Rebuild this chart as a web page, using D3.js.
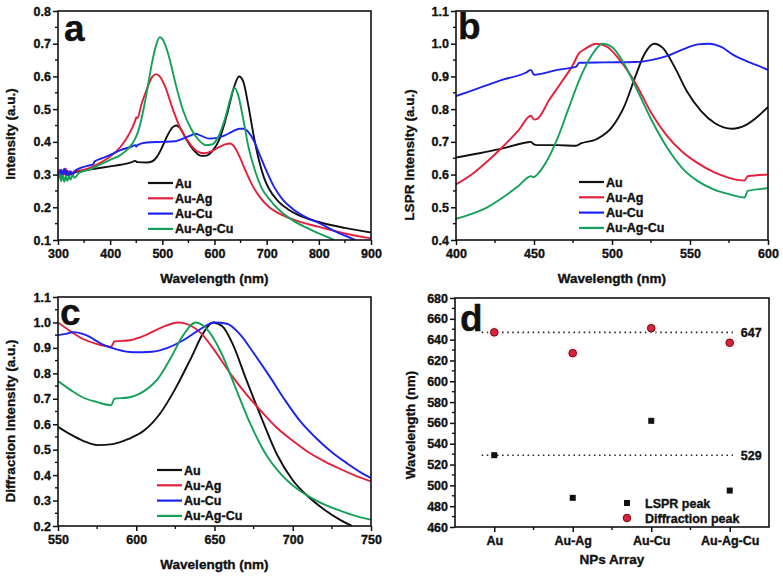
<!DOCTYPE html>
<html><head><meta charset="utf-8">
<script src="https://cdn.jsdelivr.net/npm/d3@7"></script>
<style>
body{margin:0;background:#fff;}
text{font-family:"Liberation Sans",Arial,sans-serif;font-weight:bold;fill:#111;stroke:#111;stroke-width:0.35px;}
</style></head>
<body><svg id="c" width="783" height="576"></svg>
<script>
// ---------- DATA ----------
const seriesNames = ["Au","Au-Ag","Au-Cu","Au-Ag-Cu"];
const seriesColors = ["#111111","#e3203c","#1d22f0","#15a05a"];

// Panel a: absorbance spectra [wavelength, intensity]
const a_Au = [[300,0.30],[304,0.31],[308,0.295],[312,0.31],[316,0.30],[320,0.305],[325,0.30],[330,0.305],[340,0.31],[360,0.315],[380,0.32],[400,0.325],[420,0.33],[440,0.337],[448,0.342],[452,0.338],[470,0.337],[480,0.34],[490,0.355],[500,0.385],[510,0.42],[520,0.445],[527,0.45],[535,0.44],[545,0.41],[560,0.375],[575,0.357],[585,0.358],[595,0.37],[610,0.41],[625,0.49],[637,0.565],[647,0.6],[655,0.585],[665,0.51],[675,0.42],[685,0.345],[695,0.29],[705,0.255],[720,0.222],[740,0.195],[760,0.177],[800,0.155],[850,0.137],[900,0.123]];
const a_AuAg = [[300,0.30],[303,0.315],[306,0.295],[309,0.312],[312,0.30],[315,0.318],[318,0.298],[322,0.31],[326,0.30],[330,0.31],[340,0.312],[360,0.32],[380,0.335],[400,0.355],[420,0.385],[435,0.42],[448,0.465],[450,0.475],[452,0.472],[460,0.515],[470,0.56],[480,0.597],[488,0.607],[495,0.6],[505,0.57],[520,0.5],[535,0.44],[550,0.4],[565,0.373],[580,0.365],[595,0.372],[610,0.385],[622,0.393],[630,0.395],[638,0.385],[648,0.355],[660,0.31],[675,0.26],[690,0.225],[705,0.2],[725,0.18],[750,0.163],[800,0.14],[850,0.12],[900,0.105]];
const a_AuCu = [[300,0.31],[303,0.295],[306,0.315],[309,0.30],[312,0.318],[315,0.298],[318,0.312],[321,0.296],[324,0.31],[328,0.30],[332,0.31],[340,0.318],[355,0.326],[368,0.332],[370,0.34],[385,0.35],[400,0.36],[420,0.375],[440,0.385],[448,0.39],[450,0.385],[452,0.39],[470,0.398],[500,0.4],[525,0.402],[540,0.41],[555,0.42],[563,0.425],[575,0.418],[590,0.41],[605,0.412],[620,0.42],[635,0.432],[648,0.44],[656,0.44],[665,0.43],[675,0.405],[688,0.355],[700,0.31],[715,0.26],[730,0.225],[750,0.195],[775,0.17],[800,0.152],[830,0.127],[850,0.113],[870,0.1]];
const a_AuAgCu = [[300,0.285],[303,0.30],[306,0.28],[309,0.298],[312,0.278],[315,0.296],[318,0.28],[321,0.295],[324,0.285],[328,0.298],[332,0.29],[340,0.305],[360,0.315],[380,0.33],[400,0.345],[420,0.36],[435,0.38],[448,0.41],[452,0.425],[460,0.47],[470,0.55],[480,0.64],[488,0.695],[495,0.72],[502,0.71],[512,0.665],[525,0.58],[540,0.495],[555,0.44],[570,0.405],[583,0.39],[595,0.392],[607,0.415],[620,0.47],[632,0.54],[638,0.565],[645,0.545],[655,0.47],[665,0.385],[678,0.31],[690,0.26],[705,0.225],[725,0.19],[750,0.16],[780,0.135],[810,0.113],[830,0.1]];

// Panel b: normalized LSPR spectra
const b_Au = [[400,0.652],[415,0.665],[430,0.68],[445,0.698],[448,0.7],[450,0.692],[452,0.69],[465,0.69],[477,0.688],[480,0.695],[490,0.708],[500,0.745],[508,0.81],[515,0.9],[521,0.97],[527,1.0],[533,0.985],[540,0.93],[548,0.855],[557,0.795],[566,0.757],[577,0.74],[586,0.752],[594,0.78],[600,0.807]];
const b_AuAg = [[400,0.57],[410,0.6],[420,0.64],[430,0.685],[440,0.735],[448,0.78],[450,0.768],[452,0.77],[460,0.83],[468,0.885],[476,0.945],[478,0.965],[483,0.985],[490,1.0],[497,0.99],[505,0.95],[515,0.88],[525,0.79],[535,0.72],[545,0.67],[555,0.635],[565,0.608],[575,0.59],[585,0.582],[587,0.595],[600,0.6]];
const b_AuCu = [[400,0.84],[415,0.865],[430,0.89],[445,0.912],[448,0.92],[450,0.905],[452,0.906],[465,0.92],[477,0.93],[479,0.942],[495,0.943],[515,0.944],[525,0.95],[535,0.962],[545,0.982],[555,0.998],[562,1.0],[570,0.99],[578,0.965],[587,0.945],[594,0.932],[600,0.92]];
const b_AuAgCu = [[400,0.465],[410,0.48],[420,0.5],[430,0.53],[440,0.565],[448,0.595],[450,0.592],[452,0.6],[458,0.64],[465,0.71],[472,0.8],[480,0.9],[487,0.965],[494,1.0],[500,0.99],[507,0.945],[515,0.87],[525,0.77],[535,0.685],[545,0.62],[555,0.58],[565,0.555],[575,0.54],[585,0.53],[587,0.55],[600,0.558]];

// Panel c: normalized diffraction spectra
const c_Au = [[550,0.59],[558,0.56],[566,0.535],[575,0.518],[585,0.522],[595,0.542],[605,0.575],[615,0.64],[625,0.74],[635,0.86],[643,0.96],[649,1.0],[655,0.985],[662,0.91],[670,0.78],[680,0.625],[690,0.48],[700,0.38],[710,0.315],[720,0.265],[730,0.225],[738,0.2]];
const c_AuAg = [[550,1.0],[558,0.965],[566,0.935],[575,0.915],[584,0.905],[586,0.925],[596,0.93],[606,0.95],[616,0.98],[627,1.0],[634,0.99],[641,0.96],[650,0.89],[660,0.8],[670,0.72],[680,0.65],[690,0.585],[700,0.535],[710,0.49],[720,0.455],[730,0.425],[740,0.398],[750,0.375]];
const c_AuCu = [[550,0.95],[555,0.955],[560,0.962],[568,0.95],[578,0.915],[588,0.893],[598,0.883],[610,0.885],[620,0.9],[630,0.93],[640,0.97],[650,1.0],[658,0.995],[666,0.955],[675,0.88],[685,0.79],[695,0.695],[705,0.61],[715,0.545],[725,0.49],[735,0.445],[745,0.405],[750,0.388]];
const c_AuAgCu = [[550,0.77],[558,0.735],[566,0.705],[575,0.687],[584,0.675],[586,0.7],[595,0.705],[605,0.73],[614,0.78],[622,0.86],[630,0.95],[638,1.0],[645,0.975],[654,0.885],[663,0.75],[673,0.6],[683,0.48],[693,0.4],[703,0.345],[715,0.3],[728,0.265],[740,0.24],[750,0.225]];

// Panel d: peak positions
const dCategories = ["Au","Au-Ag","Au-Cu","Au-Ag-Cu"];
const dLSPR = [529,488,562,495];
const dDiffraction = [647,627,651,637];
const dRefLines = [647,529];

// tick values
const aXTicks = [300,400,500,600,700,800,900];
const aYTicks = [0.1,0.2,0.3,0.4,0.5,0.6,0.7,0.8];
const bXTicks = [400,450,500,550,600];
const bYTicks = [0.4,0.5,0.6,0.7,0.8,0.9,1.0,1.1];
const cXTicks = [550,600,650,700,750];
const cYTicks = [0.2,0.3,0.4,0.5,0.6,0.7,0.8,0.9,1.0,1.1];
const dYTicks = [460,480,500,520,540,560,580,600,620,640,660,680];

// ---------- DRAW ----------
const svg = d3.select("#c");

function frame(g, x, y, xTicks, xMinor, yTicks, yMinor, xFmt, yFmt){
  const [x0,x1] = x.range(), [y0,y1] = y.range();
  g.selectAll(".xm").data(xMinor).join("line")
    .attr("x1",d=>x(d)).attr("x2",d=>x(d)).attr("y1",y0).attr("y2",y0+3)
    .attr("stroke","#111").attr("stroke-width",1.4);
  g.selectAll(".ym").data(yMinor).join("line")
    .attr("y1",d=>y(d)).attr("y2",d=>y(d)).attr("x1",x0).attr("x2",x0-3)
    .attr("stroke","#111").attr("stroke-width",1.4);
  const xa = g.append("g").attr("transform",`translate(0,${y0})`)
    .call(d3.axisBottom(x).tickValues(xTicks).tickSize(5).tickPadding(4).tickFormat(xFmt));
  const ya = g.append("g").attr("transform",`translate(${x0},0)`)
    .call(d3.axisLeft(y).tickValues(yTicks).tickSize(5).tickPadding(2).tickFormat(yFmt));
  [xa,ya].forEach(a=>{
    a.select(".domain").remove();
    a.selectAll("line").attr("stroke","#111").attr("stroke-width",1.5);
    a.selectAll("text").style("font-size","12.5px").attr("fill","#111");
  });
  g.append("rect").attr("x",x0).attr("y",y1).attr("width",x1-x0).attr("height",y0-y1)
    .attr("fill","none").attr("stroke","#111").attr("stroke-width",1.6);
}

function linePanel(opt){
  const g = svg.append("g");
  const x = d3.scaleLinear().domain(opt.xd).range([opt.l,opt.r]);
  const y = d3.scaleLinear().domain(opt.yd).range([opt.b,opt.t]);
  const id = "clip"+opt.letter;
  svg.append("clipPath").attr("id",id).append("rect")
    .attr("x",opt.l).attr("y",opt.t).attr("width",opt.r-opt.l).attr("height",opt.b-opt.t);
  const line = d3.line().x(d=>x(d[0])).y(d=>y(d[1])).curve(d3.curveMonotoneX);
  const lg = g.append("g").attr("clip-path",`url(#${id})`);
  opt.series.forEach((s,i)=>{
    lg.append("path").attr("d",line(s)).attr("fill","none")
      .attr("stroke",seriesColors[i]).attr("stroke-width",1.9).attr("stroke-linejoin","round");
  });
  frame(g,x,y,opt.xt,opt.xm,opt.yt,opt.ym,d3.format("d"),d3.format(".1f"));
  seriesNames.forEach((n,i)=>{
    const yy = opt.legY + i*15.3;
    g.append("line").attr("x1",opt.legX).attr("x2",opt.legX+25).attr("y1",yy).attr("y2",yy)
      .attr("stroke",seriesColors[i]).attr("stroke-width",2.2);
    g.append("text").attr("x",opt.legX+27).attr("y",yy+4.5).style("font-size","12.5px").text(n);
  });
  g.append("text").attr("x",opt.letX).attr("y",opt.letY).style("font-size","37px").text(opt.letter);
  g.append("text").attr("x",(opt.l+opt.r)/2+opt.xtDx).attr("y",opt.xtY).attr("text-anchor","middle")
    .style("font-size","13.5px").text("Wavelength (nm)");
  g.append("text").attr("transform",`translate(${opt.ytX},${opt.ytY}) rotate(-90)`).attr("text-anchor","middle")
    .style("font-size","13.5px").text(opt.ytitle);
}

function mids(arr){const m=[];for(let i=0;i<arr.length-1;i++)m.push((arr[i]+arr[i+1])/2);return m;}

linePanel({letter:"a",l:58,r:371,t:11,b:240,xd:[300,900],yd:[0.1,0.8],
  series:[a_Au,a_AuAg,a_AuCu,a_AuAgCu],xt:aXTicks,xm:mids(aXTicks),yt:aYTicks,ym:mids(aYTicks),
  legX:148,legY:183,letX:64,letY:41,xtDx:0,xtY:283,ytX:15,ytY:134,ytitle:"Intensity (a.u.)"});
linePanel({letter:"b",l:456,r:768,t:11,b:240,xd:[400,600],yd:[0.4,1.1],
  series:[b_Au,b_AuAg,b_AuCu,b_AuAgCu],xt:bXTicks,xm:mids(bXTicks),yt:bYTicks,ym:mids(bYTicks),
  legX:579,legY:182,letX:458,letY:39,xtDx:0,xtY:283,ytX:414,ytY:155,ytitle:"LSPR Intensity (a.u.)"});
linePanel({letter:"c",l:58,r:371,t:297,b:526,xd:[550,750],yd:[0.2,1.1],
  series:[c_Au,c_AuAg,c_AuCu,c_AuAgCu],xt:cXTicks,xm:mids(cXTicks),yt:cYTicks,ym:mids(cYTicks),
  legX:157,legY:470,letX:60,letY:325,xtDx:0,xtY:569,ytX:15,ytY:421,ytitle:"Diffraction Intensity (a.u.)"});

// Panel d
(function(){
  const l=455,r=769,t=298,b=527;
  const g = svg.append("g");
  const x = d3.scaleLinear().domain([0.5,4.5]).range([l,r]);
  const y = d3.scaleLinear().domain([460,680]).range([b,t]);
  frame(g,x,y,[1,2,3,4],[1.5,2.5,3.5],dYTicks,mids(dYTicks),i=>dCategories[i-1],d3.format("d"));
  dRefLines.forEach(v=>{
    g.append("line").attr("x1",x(0.84)).attr("x2",x(4.04)).attr("y1",y(v)).attr("y2",y(v))
      .attr("stroke","#222").attr("stroke-width",1.6).attr("stroke-dasharray","1.5,3.6");
    g.append("text").attr("x",x(4.14)).attr("y",y(v)+4.5).style("font-size","12.5px").text(v);
  });
  dLSPR.forEach((v,i)=>{
    g.append("rect").attr("x",x(i+1)-3).attr("y",y(v)-3).attr("width",6).attr("height",6).attr("fill","#111");
  });
  dDiffraction.forEach((v,i)=>{
    g.append("circle").attr("cx",x(i+1)).attr("cy",y(v)).attr("r",6.5).attr("fill","#f9e6ee").attr("opacity",0.6);
    g.append("circle").attr("cx",x(i+1)).attr("cy",y(v)).attr("r",3.8).attr("fill","#e0203a").attr("stroke","#5a1010").attr("stroke-width",1);
  });
  g.append("rect").attr("x",624).attr("y",500).attr("width",6).attr("height",6).attr("fill","#111");
  g.append("text").attr("x",645).attr("y",507.5).style("font-size","12.5px").text("LSPR peak");
  g.append("circle").attr("cx",627).attr("cy",518).attr("r",3.8).attr("fill","#e0203a").attr("stroke","#5a1010").attr("stroke-width",1);
  g.append("text").attr("x",645).attr("y",522.5).style("font-size","12.5px").text("Diffraction peak");
  g.append("text").attr("x",460).attr("y",331).style("font-size","37px").text("d");
  g.append("text").attr("x",612).attr("y",564).attr("text-anchor","middle").style("font-size","13.5px").text("NPs Array");
  g.append("text").attr("transform",`translate(415,425) rotate(-90)`).attr("text-anchor","middle")
    .style("font-size","13.5px").text("Wavelength (nm)");
})();
</script></body></html>
